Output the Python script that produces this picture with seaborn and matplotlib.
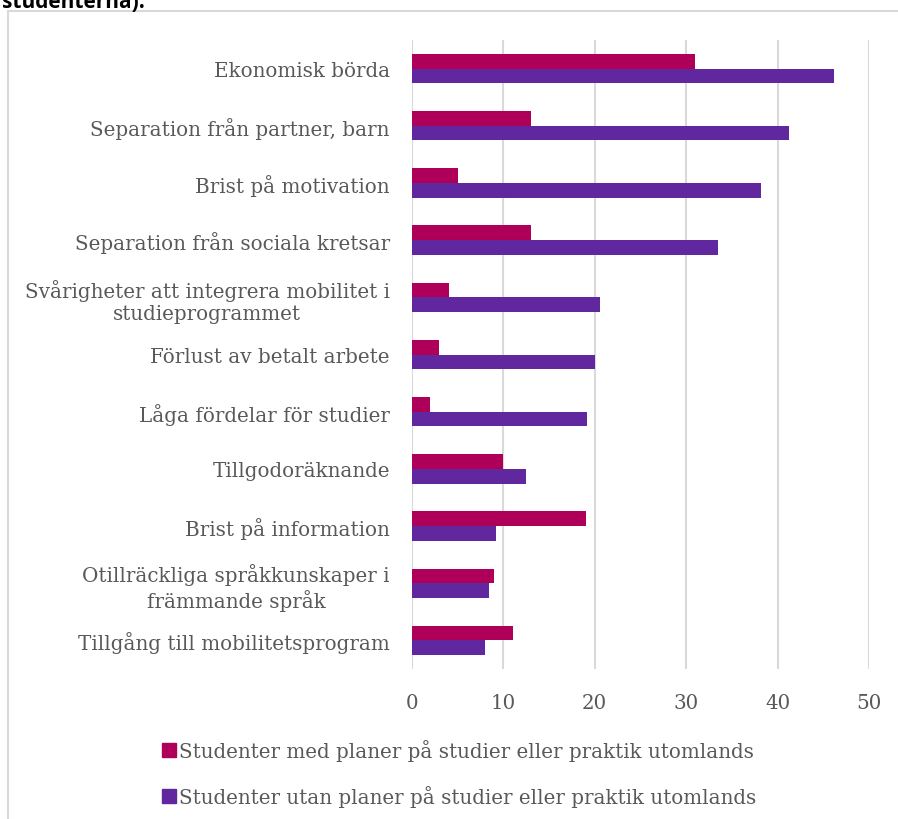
import pandas as pd
import numpy as np
import seaborn as sns
import matplotlib.pyplot as plt
from matplotlib.patches import Rectangle
from matplotlib.lines import Line2D

# Kategorier och värden
kategorier = [
    "Ekonomisk börda",
    "Separation från partner, barn",
    "Brist på motivation",
    "Separation från sociala kretsar",
    "Svårigheter att integrera mobilitet i\nstudieprogrammet",
    "Förlust av betalt arbete",
    "Låga fördelar för studier",
    "Tillgodoräknande",
    "Brist på information",
    "Otillräckliga språkkunskaper i\nfrämmande språk",
    "Tillgång till mobilitetsprogram",
]
med_planer = [31, 13, 5, 13, 4, 3, 2, 10, 19, 9, 11]
utan_planer = [46.2, 41.3, 38.2, 33.5, 20.6, 20.0, 19.1, 12.5, 9.2, 8.4, 8.0]
serier = [
    "Studenter med planer på studier eller praktik utomlands",
    "Studenter utan planer på studier eller praktik utomlands",
]
farger = ["#AE0059", "#61279E"]
xticks = [0, 10, 20, 30, 40, 50]

df = pd.DataFrame({
    "kategori": kategorier * 2,
    "varde": med_planer + utan_planer,
    "serie": [serier[0]] * len(kategorier) + [serier[1]] * len(kategorier),
})

sns.set_style("white")
plt.rcParams['font.family'] = ['DejaVu Serif']
gra = "#595959"

fig = plt.figure(figsize=(8.98, 8.2), dpi=100)
ax = fig.add_axes([412 / 898, 1 - 670 / 820, 457 / 898, 629 / 820])

sns.barplot(data=df, x="varde", y="kategori", hue="serie", order=kategorier,
            hue_order=serier, palette=farger, orient="h", width=0.515,
            saturation=1, edgecolor="none", legend=False, ax=ax)

ax.set_xlim(0, 50)
ax.set_xticks(xticks)
ax.set_xlabel("")
ax.set_ylabel("")
ax.xaxis.grid(True, color="#D9D9D9", lw=1.5)
ax.set_axisbelow(True)
for s in ax.spines.values():
    s.set_visible(False)
ax.tick_params(axis="both", length=0, labelsize=14.3, labelcolor=gra)
ax.tick_params(axis="x", pad=17)
ax.tick_params(axis="y", pad=16)
for t in ax.get_yticklabels():
    t.set_multialignment("center")

# Legend
handles = [Line2D([], [], marker="s", ls="none", color=c, markersize=9.5) for c in farger]
fig.legend(handles, serier, loc="upper left", bbox_to_anchor=(153 / 898, 1 - 732 / 820),
           frameon=False, fontsize=14.3, labelcolor=gra, handletextpad=0.1,
           labelspacing=1.2, handlelength=0.8, borderaxespad=0)

# Ram runt diagrammet
fig.patches.append(Rectangle((8 / 898, -0.05), 1.0, 1 - 12 / 820 + 0.05,
                             transform=fig.transFigure, fill=False,
                             edgecolor="#D9D9D9", lw=1.5))

# Avklippt rubrik överst
fig.text(2 / 898, 1 - 8 / 820, "studenterna).", fontsize=15, fontweight="bold",
         family="Open Sans", color="black", va="baseline")

fig.savefig("out.png", dpi=100)
